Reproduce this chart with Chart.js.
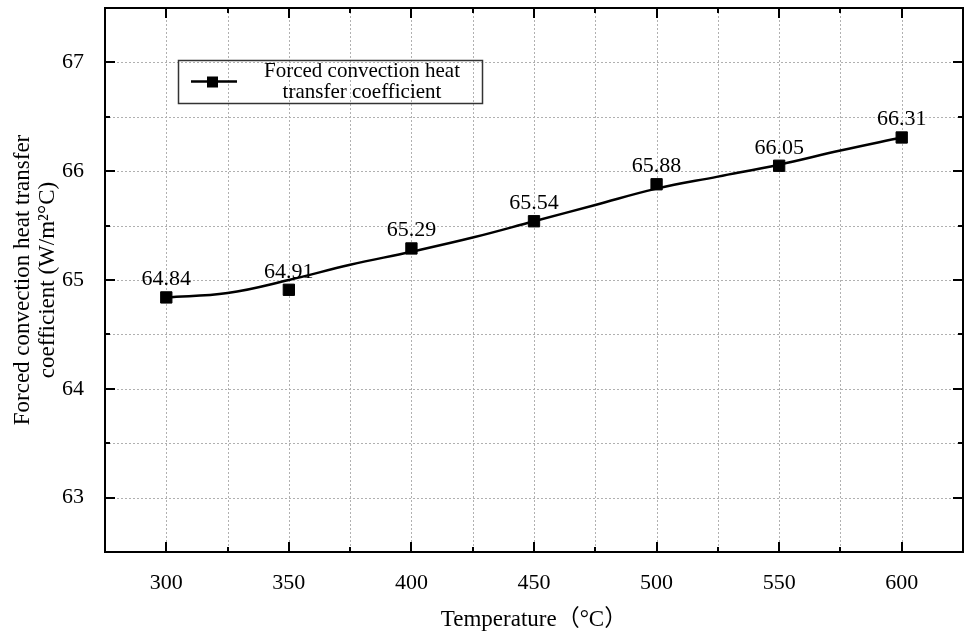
<!DOCTYPE html>
<html><head><meta charset="utf-8">
<script src="https://cdn.jsdelivr.net/npm/chart.js@4.4.1/dist/chart.umd.min.js"></script>
<style>html,body{margin:0;padding:0;background:#fff;overflow:hidden;}</style>
</head><body>
<canvas id="c" width="967" height="636" style="display:block;width:967px;height:636px"></canvas>
<script>
// ---- data ----
const temperatures = [300, 350, 400, 450, 500, 550, 600];
const coefficients = [64.84, 64.91, 65.29, 65.54, 65.88, 66.05, 66.31];
const curveTemps = [300, 325, 350, 375, 400, 425, 450, 475, 500, 525, 550, 575, 600];
const curveValues = [64.84, 64.88, 65.00, 65.14, 65.26, 65.39, 65.54, 65.69, 65.84, 65.95, 66.06, 66.19, 66.31];
const xMajorTicks = [300, 350, 400, 450, 500, 550, 600];
const yMajorTicks = [63, 64, 65, 66, 67];
const legendLines = ['Forced convection heat', 'transfer coefficient'];
const xTitle = 'Temperature（°C）';
const yTitle = ['Forced convection heat transfer', 'coefficient (W/m²°C)'];

const SERIF = '"Liberation Serif", "Times New Roman", "Noto Sans CJK SC", serif';
const noPad = () => ({left: 0, top: 0, right: 0, bottom: 0});

const framePlugin = {
  id: 'frame',
  beforeDatasetsDraw(chart) {
    const {ctx, chartArea: a, scales: {x, y}} = chart;
    ctx.save();
    ctx.strokeStyle = '#b0b0b0';
    ctx.lineWidth = 1;
    ctx.setLineDash([2, 2]);
    x.ticks.forEach(t => {
      if (t.value <= x.min || t.value >= x.max) return;
      const px = Math.round(x.getPixelForValue(t.value)) + 0.5;
      ctx.beginPath(); ctx.moveTo(px, a.top); ctx.lineTo(px, a.bottom); ctx.stroke();
    });
    y.ticks.forEach(t => {
      if (t.value <= y.min || t.value >= y.max) return;
      const py = Math.round(y.getPixelForValue(t.value)) + 0.5;
      ctx.beginPath(); ctx.moveTo(a.left, py); ctx.lineTo(a.right, py); ctx.stroke();
    });
    ctx.restore();
  },
  afterDatasetsDraw(chart) {
    const {ctx, chartArea: a, scales: {x, y}} = chart;
    ctx.save();
    ctx.strokeStyle = '#000';
    ctx.lineWidth = 2;
    ctx.setLineDash([]);
    ctx.strokeRect(a.left, a.top, a.right - a.left, a.bottom - a.top);
    x.ticks.forEach(t => {
      if (t.value <= x.min || t.value >= x.max) return;
      const len = xMajorTicks.includes(t.value) ? 10 : 5;
      const px = Math.round(x.getPixelForValue(t.value));
      ctx.beginPath();
      ctx.moveTo(px, a.bottom); ctx.lineTo(px, a.bottom - len);
      ctx.moveTo(px, a.top); ctx.lineTo(px, a.top + len);
      ctx.stroke();
    });
    y.ticks.forEach(t => {
      if (t.value <= y.min || t.value >= y.max) return;
      const len = yMajorTicks.includes(t.value) ? 10 : 5;
      const py = Math.round(y.getPixelForValue(t.value));
      ctx.beginPath();
      ctx.moveTo(a.left, py); ctx.lineTo(a.left + len, py);
      ctx.moveTo(a.right, py); ctx.lineTo(a.right - len, py);
      ctx.stroke();
    });
    // data labels
    const meta = chart.getDatasetMeta(1);
    ctx.fillStyle = '#000';
    ctx.font = '22px ' + SERIF;
    ctx.textAlign = 'center';
    ctx.textBaseline = 'alphabetic';
    meta.data.forEach((pt, i) => {
      ctx.fillText(coefficients[i].toFixed(2), pt.x, pt.y - 12);
    });
    ctx.restore();
  },
  afterDraw(chart) {
    const {ctx} = chart;
    ctx.save();
    // legend box
    ctx.strokeStyle = '#333';
    ctx.lineWidth = 1.5;
    ctx.strokeRect(178.5, 60.5, 304, 43);
    ctx.strokeStyle = '#000';
    ctx.lineWidth = 2.5;
    ctx.beginPath(); ctx.moveTo(191, 81.5); ctx.lineTo(237, 81.5); ctx.stroke();
    ctx.fillStyle = '#000';
    ctx.fillRect(207, 76.5, 11, 11);
    ctx.font = '21px ' + SERIF;
    ctx.textAlign = 'center';
    ctx.textBaseline = 'middle';
    ctx.fillText(legendLines[0], 362, 71);
    ctx.fillText(legendLines[1], 362, 92);
    ctx.restore();
  }
};

new Chart(document.getElementById('c'), {
  type: 'scatter',
  data: {
    datasets: [
      {
        label: 'curve',
        data: curveTemps.map((t, i) => ({x: t, y: curveValues[i]})),
        showLine: true,
        borderColor: '#000',
        borderWidth: 2.5,
        tension: 0.4,
        pointRadius: 0,
        fill: false
      },
      {
        label: legendLines.join(' '),
        data: temperatures.map((t, i) => ({x: t, y: coefficients[i]})),
        showLine: false,
        pointStyle: 'rect',
        pointRadius: 8,
        borderWidth: 1,
        backgroundColor: '#000',
        borderColor: '#000'
      }
    ]
  },
  options: {
    responsive: false,
    animation: false,
    events: [],
    devicePixelRatio: 1,
    layout: {autoPadding: false, padding: {top: 8, right: 4, left: 0, bottom: 0}},
    plugins: {legend: {display: false}, tooltip: {enabled: false}},
    scales: {
      x: {
        type: 'linear', min: 275, max: 625,
        ticks: {
          stepSize: 25, autoSkip: false, maxRotation: 0, minRotation: 0,
          callback: v => xMajorTicks.includes(v) ? String(v) : '',
          font: {family: SERIF, size: 22}, color: '#000', padding: 10
        },
        grid: {display: false},
        border: {display: false},
        title: {display: true, text: xTitle, color: '#000', font: {family: SERIF, size: 23}, padding: {top: 0, bottom: 2}},
        afterFit(s) { s.height = 84; s.paddingLeft = 0; s.paddingRight = 0; s.getPadding = noPad; }
      },
      y: {
        type: 'linear', min: 62.5, max: 67.5,
        ticks: {
          stepSize: 0.5, autoSkip: false,
          callback: v => yMajorTicks.includes(v) ? String(v) : '',
          font: {family: SERIF, size: 22}, color: '#000', padding: 13
        },
        grid: {display: false},
        border: {display: false},
        title: {display: true, text: yTitle, color: '#000', font: {family: SERIF, size: 23, lineHeight: 1.09}, padding: {top: 10.5, bottom: 0}},
        afterFit(s) { s.width = 105; s.paddingTop = 0; s.paddingBottom = 0; s.getPadding = noPad; }
      }
    }
  },
  plugins: [framePlugin]
});
</script>
</body></html>
